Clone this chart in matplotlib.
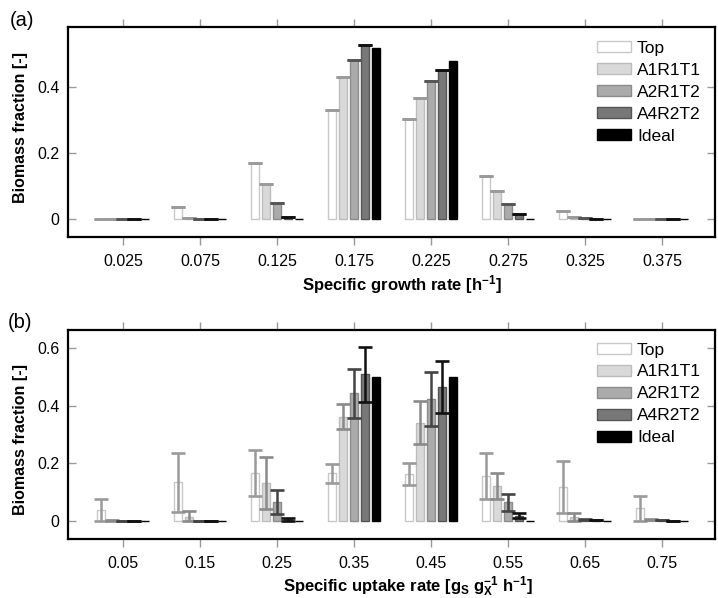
import matplotlib
matplotlib.use("Agg")
import matplotlib.pyplot as plt
import numpy as np

plt.rcParams['font.family'] = ['Liberation Sans', 'DejaVu Sans']
plt.rcParams['mathtext.fontset'] = 'custom'
plt.rcParams['mathtext.rm'] = 'Liberation Sans:bold'
plt.rcParams['mathtext.it'] = 'Liberation Sans:bold'
plt.rcParams['mathtext.bf'] = 'Liberation Sans:bold'
plt.rcParams['mathtext.default'] = 'bf'

series = ['Top', 'A1R1T1', 'A2R1T2', 'A4R2T2', 'Ideal']

# Panel (a)
cats_a = ['0.025', '0.075', '0.125', '0.175', '0.225', '0.275', '0.325', '0.375']
vals_a = {
    'Top':    [0.0, 0.037, 0.171, 0.330, 0.302, 0.131, 0.024, 0.0],
    'A1R1T1': [0.0, 0.004, 0.105, 0.430, 0.366, 0.085, 0.007, 0.0],
    'A2R1T2': [0.0, 0.0,   0.050, 0.482, 0.418, 0.046, 0.002, 0.0],
    'A4R2T2': [0.0, 0.0,   0.007, 0.527, 0.450, 0.016, 0.0,   0.0],
    'Ideal':  [0.0, 0.0,   0.0,   0.518, 0.479, 0.0,   0.0,   0.0],
}

# Panel (b)
cats_b = ['0.05', '0.15', '0.25', '0.35', '0.45', '0.55', '0.65', '0.75']
vals_b = {
    'Top':    [0.038, 0.134, 0.166, 0.166, 0.163, 0.157, 0.118, 0.044],
    'A1R1T1': [0.002, 0.015, 0.131, 0.362, 0.341, 0.123, 0.014, 0.004],
    'A2R1T2': [0.0,   0.0,   0.065, 0.443, 0.424, 0.065, 0.005, 0.002],
    'A4R2T2': [0.0,   0.0,   0.006, 0.509, 0.465, 0.019, 0.002, 0.0],
    'Ideal':  [0.0,   0.0,   0.0,   0.501, 0.500, 0.0,   0.0,   0.0],
}
err_b = {
    'Top':    [0.038, 0.102, 0.080, 0.033, 0.037, 0.080, 0.090, 0.043],
    'A1R1T1': [0.002, 0.021, 0.090, 0.043, 0.074, 0.045, 0.014, 0.002],
    'A2R1T2': [0.0,   0.0,   0.042, 0.086, 0.094, 0.030, 0.003, 0.0],
    'A4R2T2': [0.0,   0.0,   0.006, 0.095, 0.090, 0.010, 0.0,   0.0],
}

fills = ['#ffffff', '#d9d9d9', '#ababab', '#787878', '#000000']
edges = ['#c8c8c8', '#bdbdbd', '#8c8c8c', '#555555', '#000000']
cap_a = ['#9a9a9a', '#9a9a9a', '#555555', '#111111']
cap_b = ['#9a9a9a', '#8a8a8a', '#444444', '#111111']

W, H = 718, 598
fig = plt.figure(figsize=(W / 100, H / 100), dpi=100)

def px_axes(l, t, r, b):
    return fig.add_axes([l / W, 1 - b / H, (r - l) / W, (b - t) / H])

ax_a = px_axes(68, 27, 715, 237)
ax_b = px_axes(68, 330, 715, 539)

pitch = 0.143
bw = 0.108

def draw(ax, cats, vals, errs, capcols, ylim, yticks, xlabel, leg_y, xlab_pos):
    x = np.arange(len(cats))
    handles = []
    for i, s in enumerate(series):
        xs = x + (i - 2) * pitch
        v = np.array(vals[s])
        h = ax.bar(xs, v, width=bw, color=fills[i], edgecolor=edges[i],
                   linewidth=1.0, zorder=2, label=s)
        handles.append(h)
        if i < 4:
            e = np.array(errs[s]) if errs is not None else np.zeros(len(cats))
            lower = np.minimum(e, v)
            ax.errorbar(xs, v, yerr=[lower, e], fmt='none', ecolor=capcols[i],
                        elinewidth=1.8, capsize=5.2, capthick=1.9, zorder=3)
    ax.set_xlim(-0.714, 7.688)
    ax.set_ylim(*ylim)
    ax.set_xticks(x)
    ax.set_xticklabels(cats)
    ax.set_yticks(yticks)
    ax.set_yticklabels(['0' if v == 0 else f'{v:.1f}' for v in yticks])
    for sp in ax.spines.values():
        sp.set_linewidth(1.6)
        sp.set_color('black')
    ax.tick_params(axis='x', direction='out', length=6, width=1, color='#999999',
                   top=True, bottom=True, labelsize=11.5, pad=6)
    ax.tick_params(axis='y', direction='in', length=6, width=1, color='#999999',
                   left=True, right=True, labelsize=11.5, pad=6)
    ax.set_xlabel(xlabel, fontsize=12, fontweight='bold')
    ax.xaxis.set_label_coords(*xlab_pos)
    ax.set_ylabel('Biomass fraction [-]', fontsize=11.5, fontweight='bold')
    ax.legend(handles=handles, loc='upper left', frameon=False,
              bbox_to_anchor=(0.8176, leg_y), borderpad=0, borderaxespad=0,
              fontsize=12.5, handlelength=1.95, handleheight=0.6,
              handletextpad=0.35, labelspacing=0.4)
    return ax

draw(ax_a, cats_a, vals_a, None, cap_a, (-0.0545, 0.5818), [0, 0.2, 0.4],
     'Specific growth rate [h$^{-1}$]', 0.934, (0.516, -0.17))
draw(ax_b, cats_b, vals_b, err_b, cap_b, (-0.0625, 0.663), [0, 0.2, 0.4, 0.6],
     r'Specific uptake rate [g$_\mathrm{S}$ g$_\mathrm{X}^{-1}$ h$^{-1}$]', 0.94, (0.526, -0.17))

ax_a.yaxis.set_label_coords(-0.062, 0.521)
ax_b.yaxis.set_label_coords(-0.062, 0.474)

fig.text(10 / W, 1 - 20 / H, '(a)', fontsize=14.5, ha='left', va='center')
fig.text(8 / W, 1 - 323 / H, '(b)', fontsize=14.5, ha='left', va='center')

fig.savefig('out.png', dpi=100)
